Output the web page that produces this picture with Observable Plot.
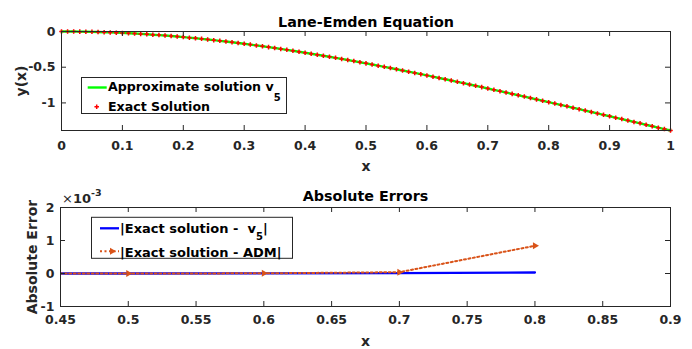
<!DOCTYPE html>
<html>
<head>
<meta charset="utf-8">
<script src="https://cdn.jsdelivr.net/npm/d3@7"></script>
<script src="https://cdn.jsdelivr.net/npm/@observablehq/plot@0.6"></script>
<style>
  html, body { margin: 0; padding: 0; background: white; }
  #chart { position: relative; width: 692px; height: 349px; overflow: hidden; }
  #chart svg { display: block; }
</style>
</head>
<body>
<div id="chart"></div>
<script>
// ---------- data ----------
const xGrid = [0,0.01,0.02,0.03,0.04,0.05,0.06,0.07,0.08,0.09,0.1,0.11,0.12,0.13,0.14,0.15,0.16,0.17,0.18,0.19,0.2,0.21,0.22,0.23,0.24,0.25,0.26,0.27,0.28,0.29,0.3,0.31,0.32,0.33,0.34,0.35,0.36,0.37,0.38,0.39,0.4,0.41,0.42,0.43,0.44,0.45,0.46,0.47,0.48,0.49,0.5,0.51,0.52,0.53,0.54,0.55,0.56,0.57,0.58,0.59,0.6,0.61,0.62,0.63,0.64,0.65,0.66,0.67,0.68,0.69,0.7,0.71,0.72,0.73,0.74,0.75,0.76,0.77,0.78,0.79,0.8,0.81,0.82,0.83,0.84,0.85,0.86,0.87,0.88,0.89,0.9,0.91,0.92,0.93,0.94,0.95,0.96,0.97,0.98,0.99,1];
const exactSolution = [0,-0.0002,-0.0008,-0.0018,-0.0032,-0.0050,-0.0072,-0.0098,-0.0128,-0.0161,-0.0199,-0.0241,-0.0286,-0.0335,-0.0388,-0.0445,-0.0506,-0.0570,-0.0638,-0.0709,-0.0784,-0.0863,-0.0945,-0.1031,-0.1120,-0.1213,-0.1308,-0.1407,-0.1510,-0.1615,-0.1724,-0.1835,-0.1950,-0.2067,-0.2188,-0.2311,-0.2437,-0.2566,-0.2698,-0.2832,-0.2968,-0.3108,-0.3249,-0.3393,-0.3539,-0.3688,-0.3839,-0.3992,-0.4147,-0.4304,-0.4463,-0.4624,-0.4787,-0.4951,-0.5118,-0.5286,-0.5455,-0.5627,-0.5800,-0.5974,-0.6150,-0.6327,-0.6505,-0.6685,-0.6866,-0.7048,-0.7232,-0.7416,-0.7602,-0.7788,-0.7976,-0.8164,-0.8353,-0.8543,-0.8734,-0.8926,-0.9118,-0.9311,-0.9505,-0.9699,-0.9894,-1.0089,-1.0285,-1.0482,-1.0678,-1.0876,-1.1073,-1.1271,-1.1469,-1.1668,-1.1867,-1.2066,-1.2265,-1.2464,-1.2664,-1.2863,-1.3063,-1.3263,-1.3463,-1.3663,-1.3863];
const approxV5 = exactSolution; // visually identical to the exact solution

const errX = [0.4, 0.5, 0.6, 0.7, 0.8];
const errV5 = [0, 0, 0.000003, 0.00001, 0.00003];
const errADM = [0, 0.000001, 0.000005, 0.00004, 0.00084];

const topXTicks = [0,0.1,0.2,0.3,0.4,0.5,0.6,0.7,0.8,0.9,1];
const topYTicks = [-1,-0.5,0];
const botXTicks = [0.45,0.5,0.55,0.6,0.65,0.7,0.75,0.8,0.85,0.9];
const botYTicks = [-0.001,0,0.001,0.002];

// ---------- styling ----------
const FONT = "'DejaVu Sans', 'Liberation Sans', sans-serif";
const AX = "#262626";
const W = 692;

const topRows = xGrid.map((x, i) => ({x, exact: exactSolution[i], approx: approxV5[i]}));
const botRows = errX.map((x, i) => ({x, v5: errV5[i], adm: errADM[i]}));

function boxTicks(xt, yt, w, h, len) {
  return [
    Plot.tickX(xt, {x: d => d, insetTop: h - len, stroke: AX}),
    Plot.tickX(xt, {x: d => d, insetBottom: h - len, stroke: AX}),
    Plot.tickY(yt, {y: d => d, insetRight: w - len, stroke: AX}),
    Plot.tickY(yt, {y: d => d, insetLeft: w - len, stroke: AX})
  ];
}
const txt = {fontFamily: FONT, fontWeight: "bold"};

// ---------- top panel ----------
const T = {h: 175, mt: 31, mb: 45, ml: 61, mr: 22};
const topPlot = Plot.plot({
  width: W, height: T.h,
  marginTop: T.mt, marginBottom: T.mb, marginLeft: T.ml, marginRight: T.mr,
  style: {fontFamily: FONT, fontSize: "12px", color: AX, background: "white", overflow: "visible"},
  x: {domain: [0, 1], axis: null},
  y: {domain: [-1.3863, 0], axis: null},
  marks: [
    Plot.line(topRows, {x: "x", y: "approx", stroke: "#00ff00", strokeWidth: 2.4}),
    Plot.dot(topRows, {x: "x", y: "exact", symbol: "cross", r: 1.9, fill: "#ff0000"}),
    ...boxTicks(topXTicks, topYTicks, W - T.ml - T.mr, T.h - T.mt - T.mb, 5),
    Plot.frame({stroke: AX}),
    Plot.axisX({ticks: topXTicks, tickSize: 0, tickPadding: 11, tickFormat: d => String(d), label: null, fontSize: 12.5, ...txt}),
    Plot.axisY({ticks: topYTicks, tickSize: 0, tickPadding: 6, tickFormat: d => String(d), label: null, fontSize: 12.5, ...txt}),
    Plot.text(["Lane-Emden Equation"], {frameAnchor: "top", dy: -5, lineAnchor: "bottom", textAnchor: "middle", fontSize: 14.3, fill: "black", ...txt}),
    Plot.text(["x"], {frameAnchor: "bottom", dy: 36, lineAnchor: "middle", textAnchor: "middle", fontSize: 14, fill: AX, ...txt}),
    Plot.text(["y(x)"], {frameAnchor: "left", dx: -40, rotate: -90, lineAnchor: "middle", textAnchor: "middle", fontSize: 14, fill: AX, ...txt})
  ]
});

// ---------- bottom panel ----------
const B = {h: 174, mt: 32, mb: 43, ml: 60, mr: 22};
const botPlot = Plot.plot({
  width: W, height: B.h,
  marginTop: B.mt, marginBottom: B.mb, marginLeft: B.ml, marginRight: B.mr,
  style: {fontFamily: FONT, fontSize: "12px", color: AX, background: "white", overflow: "visible"},
  x: {domain: [0.45, 0.9], axis: null},
  y: {domain: [-0.001, 0.002], axis: null},
  marks: [
    Plot.line(botRows, {x: "x", y: "v5", stroke: "#0000ff", strokeWidth: 2.3, clip: true}),
    Plot.line(botRows, {x: "x", y: "adm", stroke: "#D95319", strokeWidth: 2, strokeDasharray: "2,2.5", clip: true}),
    Plot.dot(botRows, {x: "x", y: "adm", symbol: "triangle", rotate: 90, r: 2.6, fill: "#D95319", clip: true}),
    ...boxTicks(botXTicks, botYTicks, W - B.ml - B.mr, B.h - B.mt - B.mb, 5),
    Plot.frame({stroke: AX}),
    Plot.axisX({ticks: botXTicks, tickSize: 0, tickPadding: 9, tickFormat: d => String(d), label: null, fontSize: 12.5, ...txt}),
    Plot.axisY({ticks: botYTicks, tickSize: 0, tickPadding: 6, tickFormat: d => String(Math.round(d * 1000)), label: null, fontSize: 12.5, ...txt}),
    Plot.text(["Absolute Errors"], {frameAnchor: "top", dy: -7, lineAnchor: "bottom", textAnchor: "middle", fontSize: 14.3, fill: "black", ...txt}),
    Plot.text(["x"], {frameAnchor: "bottom", dy: 35.5, lineAnchor: "middle", textAnchor: "middle", fontSize: 14, fill: AX, ...txt}),
    Plot.text(["Absolute Error"], {frameAnchor: "left", dx: -28, rotate: -90, lineAnchor: "middle", textAnchor: "middle", fontSize: 14, fill: AX, ...txt})
  ]
});

const chart = document.getElementById("chart");
chart.appendChild(topPlot);
chart.appendChild(botPlot);

// ---------- legends & exponent label ----------
{
  const g = d3.select(topPlot).append("g").attr("font-family", FONT).attr("font-weight", "bold")
    .attr("fill", "black").attr("text-anchor", "start");
  g.append("rect").attr("x", 81.5).attr("y", 77.5).attr("width", 205).attr("height", 36)
    .attr("fill", "white").attr("stroke", AX).attr("stroke-width", 1);
  g.append("line").attr("x1", 87.7).attr("x2", 106.7).attr("y1", 87.5).attr("y2", 87.5)
    .attr("stroke", "#00ff00").attr("stroke-width", 2.4);
  const t1 = g.append("text").attr("x", 108).attr("y", 91).attr("font-size", 12.6);
  t1.append("tspan").text("Approximate solution v");
  t1.append("tspan").attr("dy", 10).attr("font-size", 10).text("5");
  g.append("path").attr("d", d3.symbol(d3.symbolCross, Math.PI * 1.9 * 1.9)()).attr("transform", "translate(96.7,106.7)").attr("fill", "#ff0000");
  g.append("text").attr("x", 108).attr("y", 111).attr("font-size", 12.6).text("Exact Solution");
}
{
  const g = d3.select(botPlot).append("g").attr("font-family", FONT).attr("font-weight", "bold")
    .attr("fill", "black").attr("text-anchor", "start");
  g.append("rect").attr("x", 91.5).attr("y", 42.3).attr("width", 201).attr("height", 41)
    .attr("fill", "white").attr("stroke", AX).attr("stroke-width", 1);
  g.append("line").attr("x1", 100).attr("x2", 119).attr("y1", 53.3).attr("y2", 53.3)
    .attr("stroke", "#0000ff").attr("stroke-width", 2.3);
  const t1 = g.append("text").attr("x", 120).attr("y", 58.3).attr("font-size", 13).style("white-space", "pre");
  t1.append("tspan").text("|Exact solution -  v");
  t1.append("tspan").attr("dy", 7).attr("font-size", 10).text("5");
  t1.append("tspan").attr("dy", -7).text("|");
  g.append("line").attr("x1", 100).attr("x2", 119).attr("y1", 76.3).attr("y2", 76.3)
    .attr("stroke", "#D95319").attr("stroke-width", 2).attr("stroke-dasharray", "2,2.5");
  g.append("path").attr("d", d3.symbol(d3.symbolTriangle, 21)()).attr("transform", "translate(112,76.3) rotate(90)").attr("fill", "#D95319");
  g.append("text").attr("x", 120).attr("y", 81.5).attr("font-size", 13).text("|Exact solution - ADM|");

  const e = d3.select(botPlot).append("text").attr("x", 62).attr("y", 27.5).attr("text-anchor", "start")
    .attr("font-family", FONT).attr("font-size", 13).attr("fill", AX);
  e.append("tspan").attr("font-weight", "normal").text("×");
  e.append("tspan").attr("font-weight", "bold").text("10");
  e.append("tspan").attr("font-weight", "bold").attr("font-size", 9.5).attr("dy", -6.5).text("-3");
}
</script>
</body>
</html>
